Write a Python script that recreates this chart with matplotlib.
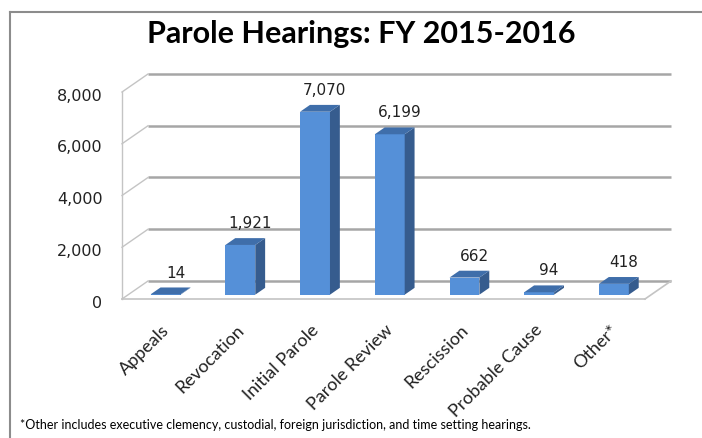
import matplotlib.pyplot as plt
from matplotlib.patches import Polygon, Rectangle
from matplotlib.lines import Line2D

categories = ['Appeals', 'Revocation', 'Initial Parole', 'Parole Review',
              'Rescission', 'Probable Cause', 'Other*']
hearings = [14, 1921, 7070, 6199, 662, 94, 418]
yticks = [0, 2000, 4000, 6000, 8000]
tick_labels = ['0', '2,000', '4,000', '6,000', '8,000']

W, H = 702, 438
fig = plt.figure(figsize=(W / 100, H / 100), dpi=100)

# plot box = front plane of the fake 3d chart (pixels measured on the reference)
left, right, bottom, top = 122, 645, 299, 92
ax = fig.add_axes([left / W, (H - bottom) / H, (right - left) / W, (bottom - top) / H])
ax.set_xlim(-0.5, len(categories) - 0.5)
ax.set_ylim(0, 8000)
ax.axis('off')

# depth of the box in data units
px_x = (len(categories)) / (right - left)
px_y = 8000 / (bottom - top)
DX = 26 * px_x
DY = 18 * px_y
x_lo, x_hi = -0.5, len(categories) - 0.5

grid_col = '#a6a6a6'
edge_col = '#c4c4c4'

# back wall gridlines and left wall diagonals
for v in yticks:
    ax.plot([x_lo + DX, x_hi + DX], [v + DY, v + DY], color=grid_col, lw=1.8,
            clip_on=False, zorder=1, solid_capstyle='butt')
    ax.plot([x_lo, x_lo + DX], [v, v + DY], color=edge_col, lw=1.0,
            clip_on=False, zorder=1)
ax.plot([x_lo, x_lo], [0, 8000], color=edge_col, lw=1.0, clip_on=False, zorder=1)
# floor
ax.plot([x_lo, x_hi], [0, 0], color=edge_col, lw=1.2, clip_on=False, zorder=1)
ax.plot([x_hi, x_hi + DX], [0, DY], color=edge_col, lw=1.2, clip_on=False, zorder=1)

# tick labels
for v, lab in zip(yticks, tick_labels):
    ax.annotate(lab, (x_lo, v), xytext=(-14, -3), textcoords='offset points',
                ha='right', va='center', fontsize=11.5, color='#222222',
                annotation_clip=False)

# bars
front_col = '#5590d8'
side_col = '#365c8e'
top_col = '#3f6eaa'
hw = 0.2
f0, f1 = 0.24, 0.62
d = f1 - f0
for i, v in enumerate(hearings):
    x0 = i - hw + f0 * DX
    x1 = i + hw + f0 * DX
    y0 = f0 * DY
    y1 = v + f0 * DY
    z = 3 + i
    ax.add_patch(Rectangle((x0, y0), x1 - x0, y1 - y0, facecolor=front_col,
                           edgecolor='none', clip_on=False, zorder=z))
    ax.add_patch(Polygon([(x1, y0), (x1 + d * DX, y0 + d * DY),
                          (x1 + d * DX, y1 + d * DY), (x1, y1)],
                         closed=True, facecolor=side_col, edgecolor='none',
                         clip_on=False, zorder=z))
    ax.add_patch(Polygon([(x0, y1), (x1, y1), (x1 + d * DX, y1 + d * DY),
                          (x0 + d * DX, y1 + d * DY)],
                         closed=True, facecolor=top_col, edgecolor='none',
                         clip_on=False, zorder=z))
    ax.annotate(f'{v:,}', (i + f1 * DX, y1 + d * DY), xytext=(0, 5),
                textcoords='offset points', ha='center', va='bottom',
                fontsize=11, color='#222222', annotation_clip=False, zorder=20)

# category labels, rotated 45 degrees
for i, lab in enumerate(categories):
    ax.text(i + 0.02, -0.11, lab, transform=ax.get_xaxis_transform(),
            rotation=45, rotation_mode='anchor', ha='right', va='top',
            fontsize=13, family='Lato', color='#222222')

# title and footnote
fig.text(361 / W, 1 - 34 / H, 'Parole Hearings: FY 2015-2016', ha='center',
         va='center', fontsize=22, fontweight='bold', family='Lato')
fig.text(20 / W, 1 - 425 / H,
         '*Other includes executive clemency, custodial, foreign jurisdiction, '
         'and time setting hearings.',
         ha='left', va='center', fontsize=9, family='Lato')

# chart frame (only top and left edges visible in the crop)
fig.add_artist(Line2D([10 / W, 1], [1 - 12 / H, 1 - 12 / H], color='#8c8c8c', lw=1.5))
fig.add_artist(Line2D([10 / W, 10 / W], [0, 1 - 12 / H], color='#8c8c8c', lw=1.5))

fig.savefig('out.png', dpi=100)
